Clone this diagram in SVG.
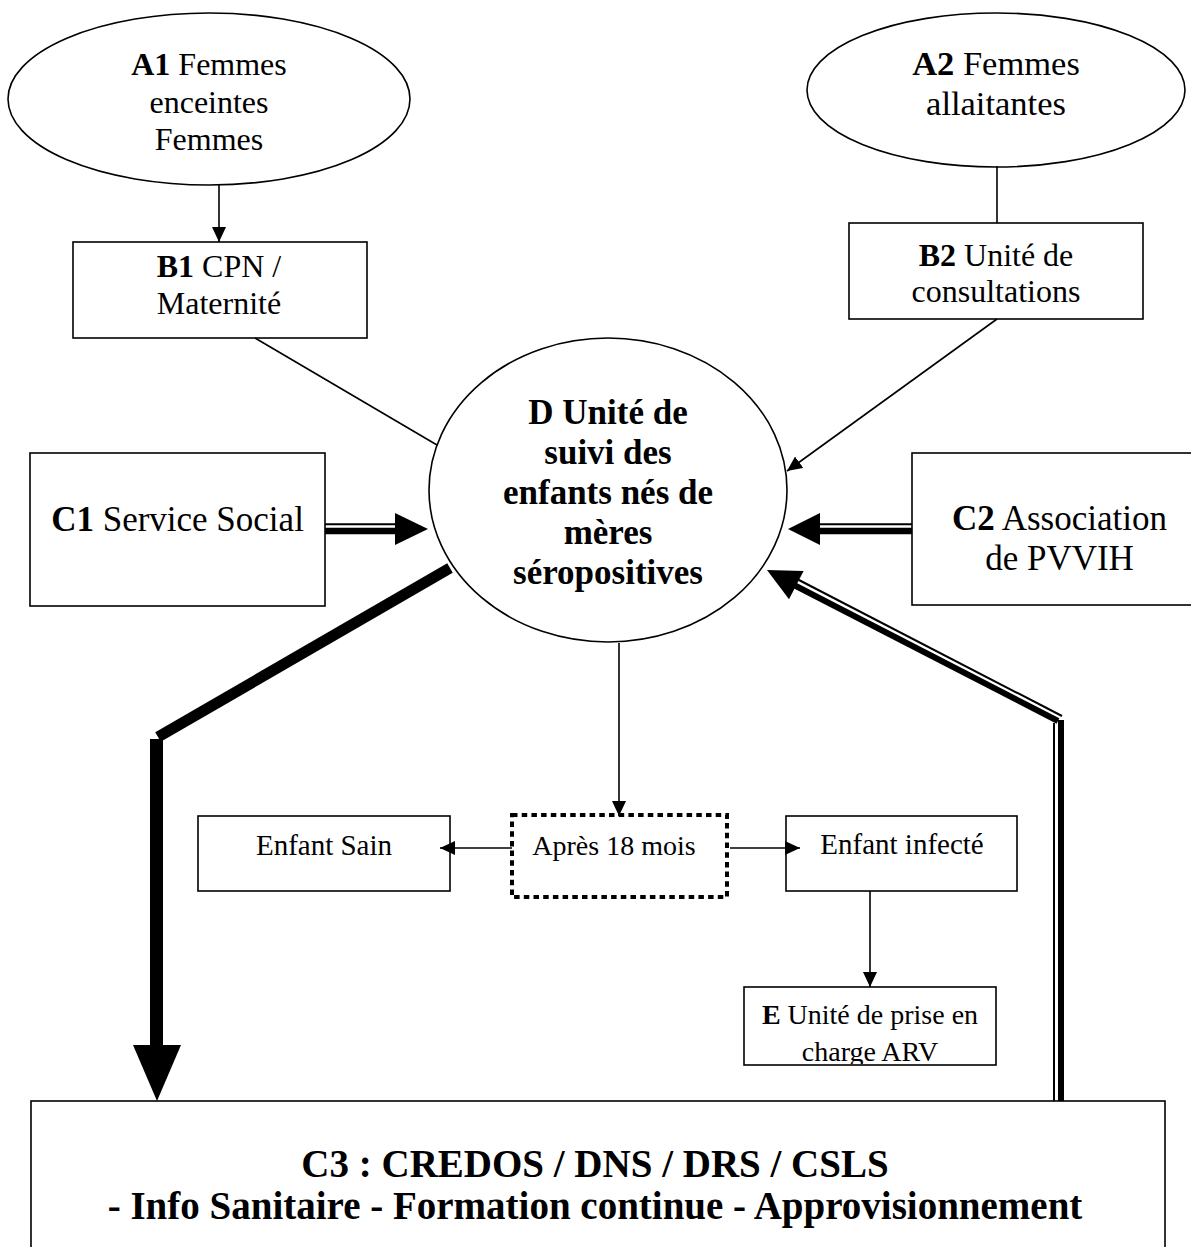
<svg xmlns="http://www.w3.org/2000/svg" width="1191" height="1247" viewBox="0 0 1191 1247">
<style>
  .shape{fill:#fff;stroke:#000;stroke-width:1.6}
  .t{font-family:"Liberation Serif","Times New Roman",serif;fill:#000;text-anchor:middle}
  .b{font-weight:bold}
  .thin{stroke:#000;stroke-width:1.6;fill:none}
  .dot{fill:#fff;stroke:#000;stroke-width:4;stroke-dasharray:5.5 4.2}
</style>
<defs>
  <marker id="ah" markerUnits="userSpaceOnUse" markerWidth="15" markerHeight="14" refX="15" refY="7" orient="auto">
    <path d="M0,0 L15,7 L0,14 z" fill="#000"/>
  </marker>
  <clipPath id="clipE"><rect x="745" y="988" width="250" height="76"/></clipPath>
</defs>
<rect width="1191" height="1247" fill="#fff"/>

<g id="A1">
  <ellipse class="shape" cx="209" cy="99" rx="201" ry="86"/>
  <text class="t" font-size="32" x="209" y="75"><tspan class="b">A1</tspan> Femmes</text>
  <text class="t" font-size="32" x="209" y="113">enceintes</text>
  <text class="t" font-size="32" x="209" y="150">Femmes</text>
</g>
<g id="A2">
  <ellipse class="shape" cx="996" cy="90" rx="189" ry="77"/>
  <text class="t" font-size="34.5" x="996" y="75"><tspan class="b">A2</tspan> Femmes</text>
  <text class="t" font-size="34.5" x="996" y="115">allaitantes</text>
</g>
<g id="B1">
  <rect class="shape" x="73" y="242" width="294" height="96"/>
  <text class="t" font-size="32" x="219" y="277"><tspan class="b">B1</tspan> CPN /</text>
  <text class="t" font-size="32" x="219" y="314">Maternité</text>
</g>
<g id="B2">
  <rect class="shape" x="849" y="223" width="294" height="96"/>
  <text class="t" font-size="32" x="996" y="266"><tspan class="b">B2</tspan> Unité de</text>
  <text class="t" font-size="32" x="996" y="302">consultations</text>
</g>
<g id="D">
  <ellipse class="shape" cx="608" cy="490" rx="179" ry="152"/>
  <text class="t b" font-size="35" x="608" y="424">D Unité de</text>
  <text class="t b" font-size="35" x="608" y="464">suivi des</text>
  <text class="t b" font-size="35" x="608" y="504">enfants nés de</text>
  <text class="t b" font-size="35" x="608" y="544">mères</text>
  <text class="t b" font-size="35" x="608" y="584">séropositives</text>
</g>
<g id="C1">
  <rect class="shape" x="30" y="453" width="295" height="153"/>
  <text class="t" font-size="35" x="177.5" y="531"><tspan class="b">C1</tspan> Service Social</text>
</g>
<g id="C2">
  <rect class="shape" x="912" y="453" width="300" height="152"/>
  <text class="t" font-size="35" x="1059.5" y="530"><tspan class="b">C2</tspan> Association</text>
  <text class="t" font-size="35" x="1059.5" y="570">de PVVIH</text>
</g>
<g id="EnfantSain">
  <rect class="shape" x="198" y="816" width="252" height="75"/>
  <text class="t" font-size="29" x="324" y="855">Enfant Sain</text>
</g>
<g id="Apres18mois">
  <rect class="dot" x="512" y="815" width="215" height="82"/>
  <text class="t" font-size="28" x="614" y="855">Après 18 mois</text>
</g>
<g id="EnfantInfecte">
  <rect class="shape" x="786" y="816" width="231" height="75"/>
  <text class="t" font-size="29" x="902" y="854">Enfant infecté</text>
</g>
<g id="E">
  <rect class="shape" x="744" y="987" width="252" height="78"/>
  <g clip-path="url(#clipE)">
    <text class="t" font-size="28" x="870" y="1024"><tspan class="b">E</tspan> Unité de prise en</text>
    <text class="t" font-size="28" x="870" y="1061">charge ARV</text>
  </g>
</g>
<g id="C3">
  <rect class="shape" x="31" y="1101" width="1134" height="170"/>
  <text class="t b" font-size="39" x="595" y="1177">C3 : CREDOS / DNS / DRS / CSLS</text>
  <text class="t b" font-size="39" x="595" y="1219">- Info Sanitaire - Formation continue - Approvisionnement</text>
</g>

<g id="connectors">
  <line class="thin" x1="219" y1="185" x2="219" y2="242" marker-end="url(#ah)"/>
  <line class="thin" x1="997" y1="166" x2="997" y2="223"/>
  <line class="thin" x1="255" y1="338" x2="437" y2="445"/>
  <line class="thin" x1="997" y1="319" x2="787" y2="471" marker-end="url(#ah)"/>
  <line class="thin" x1="619" y1="643" x2="619" y2="816" marker-end="url(#ah)"/>
  <line class="thin" x1="512" y1="848" x2="440" y2="848" marker-end="url(#ah)"/>
  <line class="thin" x1="730" y1="848" x2="800" y2="848" marker-end="url(#ah)"/>
  <line class="thin" x1="870" y1="891" x2="870" y2="987" marker-end="url(#ah)"/>
  <!-- C1 -> D double arrow -->
  <line stroke="#000" stroke-width="2" x1="325" y1="524.3" x2="397" y2="524.3"/>
  <line stroke="#000" stroke-width="6.5" x1="325" y1="531" x2="397" y2="531"/>
  <polygon points="395,513 428,529 395,545" fill="#000"/>
  <!-- C2 -> D double arrow -->
  <line stroke="#000" stroke-width="2" x1="912" y1="524.3" x2="818" y2="524.3"/>
  <line stroke="#000" stroke-width="6.5" x1="912" y1="531" x2="818" y2="531"/>
  <polygon points="820,513 788,529 820,545" fill="#000"/>
  <!-- D -> C3 thick arrow -->
  <line stroke="#000" stroke-width="11" x1="450" y1="568" x2="158" y2="737"/>
  <rect x="150" y="739" width="13" height="308" fill="#000"/>
  <polygon points="133,1045 181,1045 157,1101" fill="#000"/>
  <!-- C3 -> D double arrow -->
  <line stroke="#000" stroke-width="2" x1="1054" y1="723" x2="1054" y2="1101"/>
  <line stroke="#000" stroke-width="6" x1="1061" y1="720" x2="1061" y2="1101"/>
  <line stroke="#000" stroke-width="2" x1="1062" y1="716" x2="797" y2="579"/>
  <line stroke="#000" stroke-width="6" x1="1058" y1="721" x2="792" y2="584"/>
  <polygon points="767,570 803.6,570.9 789,599.3" fill="#000"/>
</g>
</svg>
